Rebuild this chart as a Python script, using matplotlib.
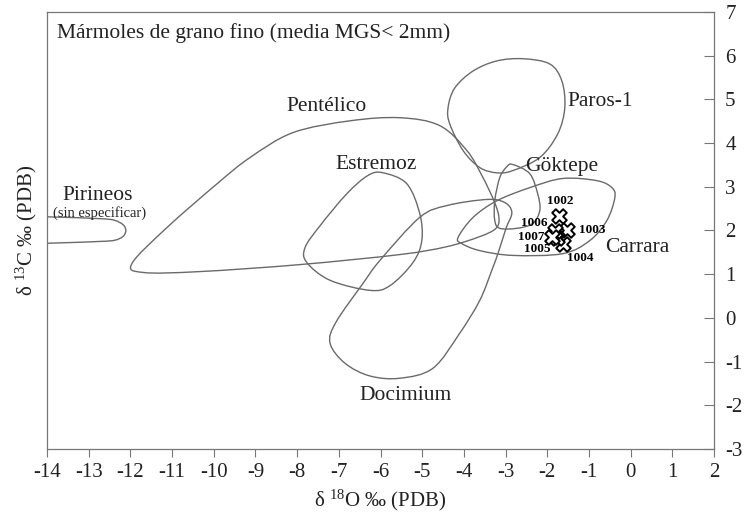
import numpy as np
import matplotlib.pyplot as plt
from matplotlib.path import Path
from matplotlib.patches import PathPatch

plt.rcParams['font.family'] = ['Liberation Serif', 'DejaVu Sans']
plt.rcParams['mathtext.fontset'] = 'custom'
plt.rcParams['mathtext.rm'] = 'Liberation Serif'
plt.rcParams['axes.unicode_minus'] = False

# outlines of the reference fields (d18O, d13C)
pirineos_x = [-14.65, -12.73, -12.25, -12.11, -12.25, -12.73, -14.65]
pirineos_y = [2.27, 2.27, 2.18, 2.00, 1.82, 1.75, 1.75]

pentelico_x = [-11.96, -11.12, -9.92, -9.13, -8.10, -6.73, -5.53, -4.58, -3.93,
               -3.57, -3.28, -3.16, -3.23, -3.62, -4.41, -5.53, -7.93, -10.33, -11.70]
pentelico_y = [1.25, 2.07, 3.07, 3.67, 4.24, 4.51, 4.58, 4.40, 3.83,
               3.26, 2.68, 2.30, 2.05, 1.86, 1.63, 1.45, 1.22, 1.06, 1.04]

docimium_x = [-7.21, -7.07, -6.42, -6.01, -5.06, -4.41, -3.45, -3.02, -2.85,
              -2.99, -3.16, -3.33, -3.62, -4.10, -4.74, -5.53, -6.25, -6.85]
docimium_y = [-0.58, -0.10, 0.79, 1.32, 2.30, 2.57, 2.71, 2.64, 2.41,
              2.05, 1.54, 1.09, 0.40, -0.35, -1.15, -1.38, -1.33, -1.04]

estremoz_x = [-5.94, -5.37, -5.06, -5.01, -5.22, -5.77, -6.25, -7.21, -7.77,
              -7.81, -7.45, -6.81, -6.30]
estremoz_y = [3.32, 3.07, 2.39, 1.77, 1.27, 0.74, 0.63, 0.86, 1.27,
              1.61, 2.11, 2.84, 3.26]

paros_x = [-2.58, -1.94, -1.65, -1.58, -1.75, -2.18, -2.83, -3.21, -3.62,
           -4.02, -4.34, -4.38, -4.22, -3.78, -3.21]
paros_y = [5.93, 5.81, 5.42, 4.81, 4.21, 3.67, 3.37, 3.32, 3.44,
           3.83, 4.44, 4.81, 5.26, 5.65, 5.88]

goktepe_x = [-2.83, -2.42, -2.23, -2.18, -2.35, -2.73, -3.14, -3.26, -3.26, -3.14, -2.97]
goktepe_y = [3.51, 3.30, 2.84, 2.46, 2.16, 2.05, 2.05, 2.23, 2.68, 3.21, 3.46]

carrara_x = [-4.14, -3.78, -3.21, -2.42, -1.63, -0.81, -0.45, -0.38, -0.57,
             -0.98, -1.63, -2.83, -3.62, -4.05]
carrara_y = [1.84, 2.30, 2.68, 2.98, 3.19, 3.14, 2.98, 2.75, 2.23,
             1.77, 1.47, 1.43, 1.54, 1.70]

fields = [(pirineos_x, pirineos_y), (pentelico_x, pentelico_y),
          (docimium_x, docimium_y), (estremoz_x, estremoz_y),
          (paros_x, paros_y), (goktepe_x, goktepe_y), (carrara_x, carrara_y)]

field_names = ['Pirineos', 'Pentélico', 'Estremoz', 'Göktepe', 'Paros-1', 'Carrara', 'Docimium']
field_lx = [-12.78, -7.29, -6.11, -1.65, -0.74, 0.15, -5.41]
field_ly = [2.79, 4.83, 3.51, 3.46, 4.95, 1.61, -1.77]

# samples
sample_ids = ['1002', '1003', '1004', '1005', '1006', '1007']
sample_x = [-1.72, -1.53, -1.63, -1.77, -1.82, -1.89]
sample_y = [2.34, 2.00, 1.70, 1.82, 1.98, 1.86]
label_x = [-1.70, -0.93, -1.22, -2.25, -2.32, -2.39]
label_y = [2.68, 2.00, 1.38, 1.58, 2.17, 1.85]


def closed_curve(xs, ys):
    # closed catmull-rom outline turned into cubic bezier pieces
    pts = np.column_stack([xs, ys])
    n = len(pts)
    verts = [pts[0]]
    codes = [Path.MOVETO]
    for i in range(n):
        p0, p1, p2, p3 = pts[i - 1], pts[i], pts[(i + 1) % n], pts[(i + 2) % n]
        verts += [p1 + (p2 - p0) / 6, p2 - (p3 - p1) / 6, p2]
        codes += [Path.CURVE4] * 3
    return Path(verts, codes)


fig = plt.figure(figsize=(7.56, 5.21), dpi=100)
ax = fig.add_axes([0.0622, 0.1382, 0.8823, 0.8388])

for xs, ys in fields:
    ax.add_patch(PathPatch(closed_curve(xs, ys), facecolor='none',
                           edgecolor='#6a6a6a', lw=1.0))

ax.scatter(sample_x, sample_y, marker='X', s=110, facecolor='white',
           edgecolor='black', linewidth=1.4, zorder=3)
for sid, lx, ly in zip(sample_ids, label_x, label_y):
    ax.text(lx, ly, sid, fontsize=9.5, fontweight='bold', ha='center', va='center')

for name, lx, ly in zip(field_names, field_lx, field_ly):
    ax.text(lx, ly, name, fontsize=15.5, ha='center', va='center', color='#222222')
ax.text(-12.75, 2.41, '(sin especificar)', fontsize=10.5, ha='center', va='center',
        color='#222222')

ax.text(0.015, 0.952, 'Mármoles de grano fino (media MGS< 2mm)', transform=ax.transAxes,
        fontsize=15.5, ha='left', va='center', color='#222222')

ax.set_xlim(-14, 2)
ax.set_ylim(-3, 7)
ax.set_xticks(range(-14, 3))
ax.set_yticks(range(-3, 8))
ax.yaxis.tick_right()
ax.tick_params(axis='x', direction='out', length=6, width=0.8, colors='#777777',
               labelcolor='#222222', labelsize=15, pad=4)
ax.tick_params(axis='y', direction='in', length=7, width=0.8, colors='#777777',
               labelcolor='#222222', labelsize=15, pad=8)
for sp in ax.spines.values():
    sp.set_color('#777777')
    sp.set_linewidth(0.9)

ax.set_xlabel(r'δ $\mathregular{^{18}}$O ‰ (PDB)', fontsize=15, color='#222222', labelpad=4)
ax.set_ylabel(r'δ $\mathregular{^{13}}$C ‰ (PDB)', fontsize=15, color='#222222', labelpad=6)
ax.yaxis.set_label_position('left')

fig.savefig('out.png', dpi=100)
